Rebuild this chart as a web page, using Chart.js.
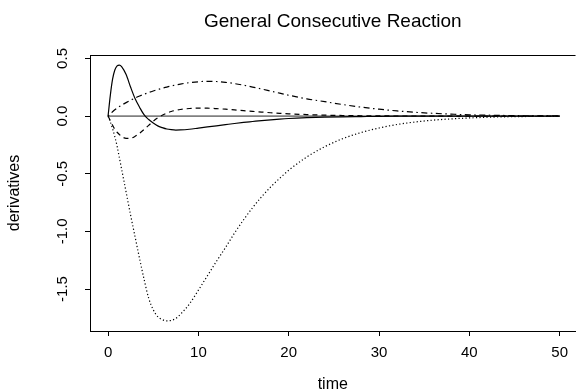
<!DOCTYPE html>
<html>
<head>
<meta charset="utf-8">
<title>General Consecutive Reaction</title>
<script src="https://cdn.jsdelivr.net/npm/chart.js@4.4.0/dist/chart.umd.min.js"></script>
<style>
  html, body { margin: 0; padding: 0; background: #fff; }
  canvas { display: block; }
</style>
</head>
<body>
<canvas id="chart" width="576" height="392"></canvas>
<script>
// time grid shared by every curve
const times = [0, 0.25, 0.5, 0.75, 1, 1.25, 1.5, 2, 2.5, 3, 3.5, 4, 4.5, 5, 5.5, 6, 6.5, 7, 7.5, 8,
               9, 10, 11, 12, 13, 14, 15, 16, 17, 18, 19, 20, 22, 24, 26, 28, 30, 32, 34, 36,
               38, 40, 42, 45, 50];

// derivative curves
const solidVals = [0, 0.18, 0.32, 0.40, 0.435, 0.443, 0.43, 0.36, 0.25, 0.15, 0.075, 0.01, -0.03, -0.06, -0.085, -0.1,
                   -0.112, -0.118, -0.121, -0.12, -0.114, -0.104, -0.094, -0.084, -0.074, -0.064, -0.055, -0.047, -0.039, -0.032,
                   -0.026, -0.021, -0.014, -0.009, -0.006, -0.004, -0.002, -0.001, -0.001, 0, 0, 0, 0, 0, 0];
const dashedVals = [0, -0.04, -0.08, -0.115, -0.14, -0.16, -0.177, -0.193, -0.192, -0.175, -0.148, -0.115, -0.08, -0.045, -0.015, 0.008,
                    0.026, 0.04, 0.05, 0.057, 0.066, 0.07, 0.069, 0.065, 0.06, 0.054, 0.047, 0.041, 0.035, 0.029,
                    0.024, 0.02, 0.013, 0.008, 0.005, 0.003, 0.002, 0.001, 0.001, 0, 0, 0, 0, 0, 0];
const dotdashVals = [0, 0.02, 0.038, 0.055, 0.07, 0.083, 0.095, 0.117, 0.138, 0.157, 0.174, 0.19, 0.205, 0.218, 0.23, 0.242,
                     0.252, 0.262, 0.27, 0.278, 0.29, 0.298, 0.302, 0.3, 0.293, 0.282, 0.268, 0.252, 0.235, 0.217,
                     0.199, 0.181, 0.15, 0.125, 0.1, 0.078, 0.06, 0.045, 0.033, 0.024, 0.017, 0.011, 0.008, 0.004, 0.001];
const dottedVals = [0, -0.05, -0.11, -0.18, -0.26, -0.36, -0.46, -0.66, -0.86, -1.05, -1.24, -1.42, -1.58, -1.68, -1.74, -1.765,
                    -1.776, -1.772, -1.755, -1.72, -1.63, -1.51, -1.385, -1.26, -1.14, -1.015, -0.9, -0.795, -0.7, -0.615,
                    -0.54, -0.47, -0.355, -0.265, -0.195, -0.143, -0.103, -0.073, -0.051, -0.035, -0.024, -0.016, -0.01, -0.005, -0.001];

// reference line at zero
const zeroTimes = [0, 50];
const zeroVals = [0, 0];

const xTicks = [0, 10, 20, 30, 40, 50];
const yTicks = [-1.5, -1, -0.5, 0, 0.5];
const yTickLabels = ['-1.5', '-1.0', '-0.5', '0.0', '0.5'];

const FONT = '"Liberation Sans", Arial, Helvetica, sans-serif';

function toPoints(xs, ys) {
    return xs.map((x, i) => ({ x: x, y: ys[i] }));
}

function curve(vals, dash) {
    return {
        data: toPoints(times, vals),
        showLine: true,
        borderColor: '#000',
        borderWidth: 1.2,
        borderDash: dash,
        pointRadius: 0,
        cubicInterpolationMode: 'monotone',
        fill: false
    };
}

// top edge of the box plus rotated y tick labels
const frame = {
    id: 'frame',
    afterDraw(chart) {
        const ctx = chart.ctx;
        const area = chart.chartArea;
        const y = chart.scales.y;
        ctx.save();
        ctx.strokeStyle = '#000';
        ctx.lineWidth = 1;
        ctx.beginPath();
        ctx.moveTo(area.left, Math.round(area.top) + 0.5);
        ctx.lineTo(area.right, Math.round(area.top) + 0.5);
        ctx.stroke();

        ctx.fillStyle = '#000';
        ctx.font = '15px ' + FONT;
        ctx.textAlign = 'center';
        ctx.textBaseline = 'middle';
        yTicks.forEach((v, i) => {
            ctx.save();
            ctx.translate(63, y.getPixelForValue(v));
            ctx.rotate(-Math.PI / 2);
            ctx.fillText(yTickLabels[i], 0, 0);
            ctx.restore();
        });
        ctx.restore();
    }
};

new Chart(document.getElementById('chart'), {
    type: 'scatter',
    data: {
        datasets: [
            curve(solidVals, []),
            curve(dashedVals, [5, 4]),
            curve(dotdashVals, [1.5, 3.5, 6, 3.5]),
            curve(dottedVals, [1.2, 2.3]),
            {
                data: toPoints(zeroTimes, zeroVals),
                showLine: true,
                borderColor: '#808080',
                borderWidth: 1.8,
                pointRadius: 0,
                fill: false
            }
        ]
    },
    options: {
        responsive: false,
        animation: false,
        devicePixelRatio: 1,
        layout: { padding: 0 },
        plugins: {
            legend: { display: false },
            tooltip: { enabled: false },
            title: {
                display: true,
                text: 'General Consecutive Reaction',
                fullSize: false,
                color: '#000',
                font: { family: FONT, size: 19, weight: 'normal', lineHeight: 1.2 },
                padding: { top: 10, bottom: 22.2 }
            }
        },
        scales: {
            x: {
                type: 'linear',
                min: -2,
                max: 51.76,
                afterBuildTicks: s => { s.ticks = xTicks.map(v => ({ value: v })); },
                afterFit: s => { s.height = 61; },
                ticks: {
                    color: '#000',
                    font: { family: FONT, size: 15 },
                    padding: 8,
                    maxRotation: 0,
                    callback: v => String(v)
                },
                grid: { drawOnChartArea: false, tickLength: 5, color: '#000', lineWidth: 1 },
                border: { color: '#000', width: 1 },
                title: {
                    display: true,
                    text: 'time',
                    color: '#000',
                    font: { family: FONT, size: 16, lineHeight: 1.2 },
                    padding: { top: 0, bottom: -2 }
                }
            },
            y: {
                type: 'linear',
                min: -1.864,
                max: 0.53,
                afterBuildTicks: s => { s.ticks = yTicks.map(v => ({ value: v })); },
                afterFit: s => { s.width = 90; },
                ticks: { display: false },
                grid: { drawOnChartArea: false, tickLength: 5, color: '#000', lineWidth: 1 },
                border: { color: '#000', width: 1 },
                title: {
                    display: true,
                    text: 'derivatives',
                    color: '#000',
                    font: { family: FONT, size: 16, lineHeight: 1.2 },
                    padding: { top: 5, bottom: 0 }
                }
            }
        }
    },
    plugins: [frame]
});
</script>
</body>
</html>
